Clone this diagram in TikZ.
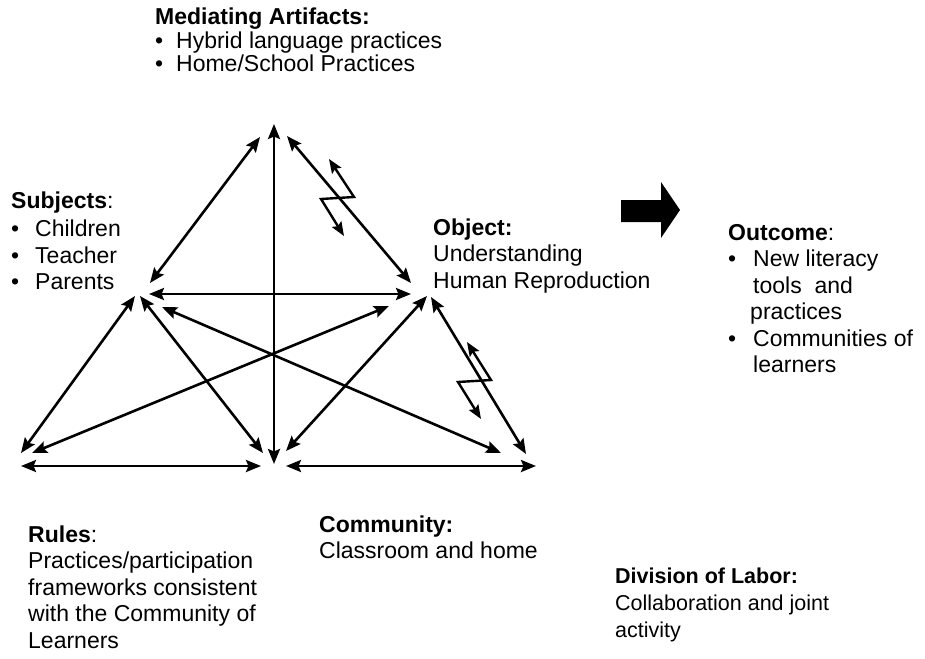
\documentclass[tikz,border=0pt]{standalone}
\usepackage{fontspec}
\setmainfont{Liberation Sans}
\usetikzlibrary{arrows.meta}
% bullet followed by the hanging indent of a list item
\newcommand\itm[1][24pt]{\makebox[#1][l]{•}}
\begin{document}
\begin{tikzpicture}[x=1pt,y=-1pt,
  link/.style={line width=2.6pt,{Stealth[length=15pt,width=12pt,inset=2.5pt]}-{Stealth[length=15pt,width=12pt,inset=2.5pt]}},
  zig/.style={line width=2.4pt,line join=miter,{Stealth[length=14pt,width=11pt,inset=2.5pt]}-{Stealth[length=14pt,width=11pt,inset=2.5pt]}},
  txt/.style={anchor=base west,inner sep=0pt,font=\fontsize{23}{26.5}\selectfont},
  bigarrow/.style={fill=black,draw=none}]
\useasboundingbox (0,0) rectangle (925,658);

% --- end points of the connectors ---
% top vertex
\coordinate (tTop) at (274,124);
\coordinate (tL)   at (260,137);
\coordinate (tR)   at (287,136);
% subjects vertex
\coordinate (sT)   at (150,283);
\coordinate (sH)   at (149,294);
\coordinate (sBL)  at (135,296);
\coordinate (sBM)  at (140,296);
\coordinate (sX)   at (162,307);
% object vertex
\coordinate (oT)   at (411,283);
\coordinate (oH)   at (411,294);
\coordinate (oX)   at (389,306);
\coordinate (oBM)  at (427,296);
\coordinate (oBR)  at (431,297);
% bottom left vertex
\coordinate (blS)  at (21,453);
\coordinate (blO)  at (32,453);
\coordinate (blH)  at (21,466);
% bottom middle vertex
\coordinate (bmT)  at (274,464);
\coordinate (bmS)  at (263,453);
\coordinate (bmO)  at (286,451);
\coordinate (bmHL) at (261,466);
\coordinate (bmHR) at (286,466);
% bottom right vertex
\coordinate (brS)  at (501,453);
\coordinate (brO)  at (526,454);
\coordinate (brH)  at (536,466);
% zigzag tension arrows
\coordinate (z1a) at (329,159);
\coordinate (z1b) at (354,197);
\coordinate (z1c) at (321,199);
\coordinate (z1d) at (344,236);
\coordinate (z2a) at (467,342);
\coordinate (z2b) at (491,380);
\coordinate (z2c) at (458,382);
\coordinate (z2d) at (481,419);

% --- connectors of the activity triangle ---
\draw[link] (tL) -- (sT);
\draw[link] (tTop) -- (bmT);
\draw[link] (tR) -- (oT);
\draw[link] (sH) -- (oH);
\draw[link] (sBL) -- (blS);
\draw[link] (sBM) -- (bmS);
\draw[link] (oX) -- (blO);
\draw[link] (sX) -- (brS);
\draw[link] (oBM) -- (bmO);
\draw[link] (oBR) -- (brO);
\draw[link] (blH) -- (bmHL);
\draw[link] (bmHR) -- (brH);

% --- zigzag arrows ---
\draw[zig] (z1a) -- (z1b) -- (z1c) -- (z1d);
\draw[zig] (z2a) -- (z2b) -- (z2c) -- (z2d);

% --- block arrow towards the outcome ---
\fill[bigarrow] (621,200) -- (661,200) -- (661,182) -- (680,210)
  -- (661,238) -- (661,222) -- (621,222) -- cycle;

% --- labels ---
\node[txt] (med) at (155,25) {\fontsize{23}{22}\selectfont
  \begin{tabular}[t]{@{}l@{}}
  \textbf{Mediating Artifacts:}\\
  \itm[21pt]Hybrid language practices\\
  \itm[21pt]Home/School Practices
  \end{tabular}};

\node[txt] (subj) at (11,208) {\begin{tabular}[t]{@{}l@{}}
  \textbf{Subjects}:\\[2pt]
  \itm Children\\
  \itm Teacher\\
  \itm Parents
  \end{tabular}};

\node[txt] (obj) at (433,235) {\begin{tabular}[t]{@{}l@{}}
  \textbf{Object:}\\
  Understanding\\
  Human Reproduction
  \end{tabular}};

\node[txt] (out) at (728,240) {\begin{tabular}[t]{@{}l@{}}
  \textbf{Outcome}:\\
  \itm[25pt]New literacy\\
  \hspace{25pt}tools\ \ and\\
  \hspace{22pt}practices\\
  \itm[25pt]Communities of\\
  \hspace{25pt}learners
  \end{tabular}};

\node[txt] (rules) at (28,542) {\begin{tabular}[t]{@{}l@{}}
  \textbf{Rules}:\\
  Practices/participation\\
  frameworks consistent\\
  with the Community of\\
  Learners
  \end{tabular}};

\node[txt] (comm) at (319,532) {\begin{tabular}[t]{@{}l@{}}
  \textbf{Community:}\\
  Classroom and home
  \end{tabular}};

\node[txt] (div) at (615,583) {\fontsize{21.5}{27}\selectfont
  \begin{tabular}[t]{@{}l@{}}
  \textbf{Division of Labor:}\\
  Collaboration and joint\\
  activity
  \end{tabular}};
\end{tikzpicture}
\end{document}
